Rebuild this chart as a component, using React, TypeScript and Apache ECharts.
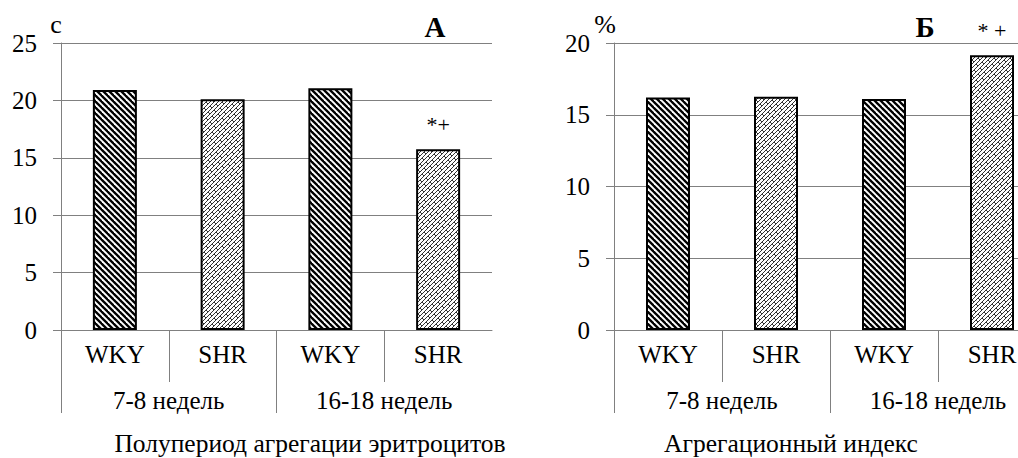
import React, { useEffect, useRef } from 'react';
import * as echarts from 'echarts';

const categories = ['WKY', 'SHR', 'WKY', 'SHR'];
const ageGroups = ['7-8 недель', '16-18 недель'];
const halfPeriodValues = [20.9, 20.1, 21.05, 15.75];
const halfPeriodMarks = ['', '', '', '*+'];
const aggIndexValues = [16.2, 16.25, 16.1, 19.15];
const aggIndexMarks = ['', '', '', '* +'];
const leftTicks = { min: 0, max: 25, interval: 5 };
const rightTicks = { min: 0, max: 20, interval: 5 };
const units = ['c', '%'];
const panelLetters = ['А', 'Б'];
const panelTitles = ['Полупериод агрегации эритроцитов', 'Агрегационный индекс'];

const FONT = 'Liberation Serif';
const GRID = '#808080';

function stripePattern(): any {
  const s = 6;
  const c = document.createElement('canvas');
  c.width = s; c.height = s;
  const g = c.getContext('2d')!;
  g.fillStyle = '#fff';
  g.fillRect(0, 0, s, s);
  g.strokeStyle = '#000';
  g.lineWidth = 2.3;
  for (let k = -1; k <= 1; k++) {
    g.beginPath();
    g.moveTo(k * s - 2, -2);
    g.lineTo(k * s + s + 2, s + 2);
    g.stroke();
  }
  return { image: c, repeat: 'repeat', imageWidth: s, imageHeight: s };
}

function brickPattern(): any {
  const s = 16;
  const c = document.createElement('canvas');
  c.width = s; c.height = s;
  const g = c.getContext('2d')!;
  g.fillStyle = '#fff';
  g.fillRect(0, 0, s, s);
  g.strokeStyle = '#333';
  g.lineWidth = 1;
  g.beginPath();
  for (let k = -8; k <= 2 * s + 8; k += 4) {
    g.moveTo(k + 3, -3);
    g.lineTo(k - s - 3, s + 3);
  }
  for (let r = -12; r <= 12; r++) {
    for (let m = -8; m <= 8; m++) {
      const o = Math.abs(r) % 2 ? 4 : 0;
      const x = 2 * r + o + 8 * m;
      const y = 2 * r - o - 8 * m;
      if (x < -4 || x > s + 4 || y < -4 || y > s + 4) continue;
      g.moveTo(x, y);
      g.lineTo(x + 2, y + 2);
    }
  }
  g.stroke();
  return { image: c, repeat: 'repeat', imageWidth: s, imageHeight: s };
}

export default function App() {
  const ref = useRef<HTMLDivElement>(null);
  useEffect(() => {
    if (!ref.current) return;
    const chart = echarts.init(ref.current, undefined, { renderer: 'svg' });
    const stripes = stripePattern();
    const bricks = brickPattern();

    const panels = [
      { left: 61, width: 431, values: halfPeriodValues, marks: halfPeriodMarks, ticks: leftTicks, unit: units[0], unitPad: 10 },
      { left: 614, width: 432, values: aggIndexValues, marks: aggIndexMarks, ticks: rightTicks, unit: units[1], unitPad: 18 },
    ];

    const grid: any[] = [];
    const xAxis: any[] = [];
    const yAxis: any[] = [];
    const series: any[] = [];
    const txt = { color: '#000', fontFamily: FONT };

    panels.forEach((p) => {
      const gMain = grid.length;
      grid.push({ left: p.left, top: 43, width: p.width, height: 287 });
      const gSep = grid.length;
      grid.push({ left: p.left, top: 330, width: p.width, height: 52 });
      const gGrp = grid.length;
      grid.push({ left: p.left, top: 330, width: p.width, height: 83 });

      const xMain = xAxis.length;
      xAxis.push({
        type: 'category', gridIndex: gMain, data: categories, position: 'bottom',
        axisLine: { show: true, lineStyle: { color: GRID, width: 1 } },
        axisTick: { show: false },
        axisLabel: { ...txt, fontSize: 25, margin: 12, interval: 0 },
        splitLine: { show: false },
      });
      xAxis.push({
        type: 'category', gridIndex: gMain, data: ageGroups, position: 'bottom',
        axisLine: { show: false }, axisTick: { show: false },
        axisLabel: { ...txt, fontSize: 25, margin: 58, interval: 0 },
        splitLine: { show: false },
      });
      xAxis.push({
        type: 'category', gridIndex: gSep, data: categories,
        axisLine: { show: false }, axisTick: { show: false }, axisLabel: { show: false },
        splitLine: { show: true, interval: 0, showMinLine: true, showMaxLine: false, lineStyle: { color: GRID, width: 1 } },
      });
      xAxis.push({
        type: 'category', gridIndex: gGrp, data: ageGroups,
        axisLine: { show: false }, axisTick: { show: false }, axisLabel: { show: false },
        splitLine: { show: true, interval: 0, showMinLine: true, showMaxLine: false, lineStyle: { color: GRID, width: 1 } },
      });

      const yMain = yAxis.length;
      yAxis.push({
        type: 'value', gridIndex: gMain, min: p.ticks.min, max: p.ticks.max, interval: p.ticks.interval,
        axisLine: { show: true, lineStyle: { color: GRID, width: 1 } },
        axisTick: { show: true, length: 8, lineStyle: { color: GRID, width: 1 } },
        splitLine: { show: true, lineStyle: { color: GRID, width: 1 } },
        axisLabel: { ...txt, fontSize: 25, margin: 24 },
        name: p.unit, nameLocation: 'end', nameGap: 6,
        nameTextStyle: { ...txt, fontSize: 26, padding: [0, p.unitPad, 0, 0] },
      });
      yAxis.push({ type: 'value', gridIndex: gSep, show: false });
      yAxis.push({ type: 'value', gridIndex: gGrp, show: false });

      series.push({
        type: 'bar', xAxisIndex: xMain, yAxisIndex: yMain, barWidth: 44,
        data: p.values.map((v, k) => ({
          value: v,
          itemStyle: { color: k % 2 === 0 ? stripes : bricks, borderColor: '#000', borderWidth: 2 },
          label: {
            ...txt, show: p.marks[k] !== '', position: 'top', distance: 14,
            formatter: p.marks[k], fontSize: 22,
          },
        })),
      });
    });

    chart.setOption({
      animation: false,
      textStyle: { fontFamily: FONT },
      grid, xAxis, yAxis, series,
      graphic: [
        { type: 'text', x: 435, y: 27, style: { text: panelLetters[0], fontSize: 29, fontWeight: 'bold', fontFamily: FONT, fill: '#000', align: 'center', verticalAlign: 'middle' } },
        { type: 'text', x: 925, y: 27, style: { text: panelLetters[1], fontSize: 29, fontWeight: 'bold', fontFamily: FONT, fill: '#000', align: 'center', verticalAlign: 'middle' } },
        { type: 'text', x: 310, y: 443, style: { text: panelTitles[0], fontSize: 25.5, fontFamily: FONT, fill: '#000', align: 'center', verticalAlign: 'middle' } },
        { type: 'text', x: 791, y: 443, style: { text: panelTitles[1], fontSize: 25.5, fontFamily: FONT, fill: '#000', align: 'center', verticalAlign: 'middle' } },
      ],
    });
    return () => chart.dispose();
  }, []);
  return (
    <div style={{ position: 'absolute', left: 0, top: 0, width: 1018, height: 458, overflow: 'hidden', background: '#fff' }}>
      <div ref={ref} style={{ width: 1060, height: 458 }} />
    </div>
  );
}
